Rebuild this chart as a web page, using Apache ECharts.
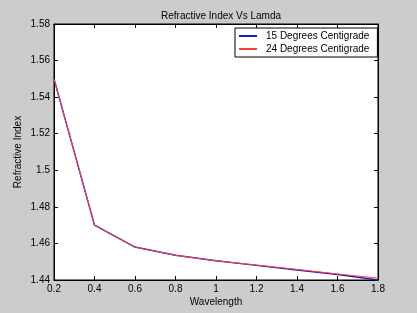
<!DOCTYPE html>
<html>
<head>
<meta charset="utf-8">
<script src="https://cdn.jsdelivr.net/npm/echarts@6/dist/echarts.min.js"></script>
<style>
  html, body { margin: 0; padding: 0; background: #cccccc; }
  #chart { width: 417px; height: 313px; }
</style>
</head>
<body>
<div id="chart"></div>
<script>
var wavelength = [0.2, 0.4, 0.6, 0.8, 1.0, 1.2, 1.4, 1.6, 1.8];
var index15 = [1.550, 1.470, 1.458, 1.4535, 1.4505, 1.4480, 1.4455, 1.4430, 1.4400];
var index24 = [1.550, 1.470, 1.458, 1.4535, 1.4505, 1.4482, 1.4458, 1.4433, 1.4410];
var seriesNames = ['15 Degrees Centigrade', '24 Degrees Centigrade'];

var myChart = echarts.init(document.getElementById('chart'));

function pairs(xs, ys) {
    return xs.map(function (x, i) { return [x, ys[i]]; });
}

var font = 'Liberation Sans, Arial, sans-serif';

option = {
    backgroundColor: '#cccccc',
    animation: false,
    title: {
        text: 'Refractive Index Vs Lamda',
        left: 156,
        top: 6,
        textStyle: { fontSize: 10, fontWeight: 'normal', color: '#000', fontFamily: font }
    },
    legend: {
        orient: 'vertical',
        left: 235,
        top: 28,
        itemWidth: 18,
        itemHeight: 2,
        itemGap: 3,
        padding: [3, 8, 3, 4],
        icon: 'rect',
        backgroundColor: '#fff',
        borderColor: '#000',
        borderWidth: 1,
        borderRadius: 0,
        textStyle: { fontSize: 10, color: '#000', fontFamily: font, padding: [0, 0, 0, 4] },
        data: seriesNames
    },
    grid: {
        left: 54,
        right: 39,
        top: 24,
        bottom: 33,
        show: true,
        backgroundColor: '#fff',
        borderColor: '#000',
        borderWidth: 1
    },
    xAxis: [{
        type: 'value',
        min: 0.2,
        max: 1.8,
        interval: 0.2,
        name: 'Wavelength',
        nameLocation: 'middle',
        nameGap: 17,
        nameMoveOverlap: false,
        nameTextStyle: { fontSize: 10, color: '#000', fontFamily: font },
        axisLine: { lineStyle: { color: '#000' } },
        axisTick: { inside: true, length: 4, lineStyle: { color: '#000' } },
        axisLabel: {
            fontSize: 10, color: '#000', fontFamily: font, margin: 4,
            formatter: function (v) { return +v.toFixed(1); }
        },
        splitLine: { show: false }
    }, {
        type: 'value',
        position: 'top',
        min: 0.2,
        max: 1.8,
        interval: 0.2,
        axisLine: { lineStyle: { color: '#000' } },
        axisTick: { inside: true, length: 4, lineStyle: { color: '#000' } },
        axisLabel: { show: false },
        splitLine: { show: false }
    }],
    yAxis: [{
        type: 'value',
        min: 1.44,
        max: 1.58,
        interval: 0.02,
        name: 'Refractive Index',
        nameLocation: 'middle',
        nameGap: 31,
        nameMoveOverlap: false,
        nameTextStyle: { fontSize: 10, color: '#000', fontFamily: font },
        axisLine: { lineStyle: { color: '#000' } },
        axisTick: { inside: true, length: 4, lineStyle: { color: '#000' } },
        axisLabel: {
            fontSize: 10, color: '#000', fontFamily: font, margin: 4,
            formatter: function (v) { return +v.toFixed(2); }
        },
        splitLine: { show: false }
    }, {
        type: 'value',
        position: 'right',
        min: 1.44,
        max: 1.58,
        interval: 0.02,
        axisLine: { lineStyle: { color: '#000' } },
        axisTick: { inside: true, length: 4, lineStyle: { color: '#000' } },
        axisLabel: { show: false },
        splitLine: { show: false }
    }],
    series: [{
        name: seriesNames[0],
        type: 'line',
        data: pairs(wavelength, index15),
        symbol: 'none',
        color: '#2020c0',
        lineStyle: { width: 1.5, color: '#2020c0' }
    }, {
        name: seriesNames[1],
        type: 'line',
        data: pairs(wavelength, index24),
        symbol: 'none',
        color: '#ff4040',
        lineStyle: { width: 1, color: '#ff4040' }
    }]
};

myChart.setOption(option);
</script>
</body>
</html>
